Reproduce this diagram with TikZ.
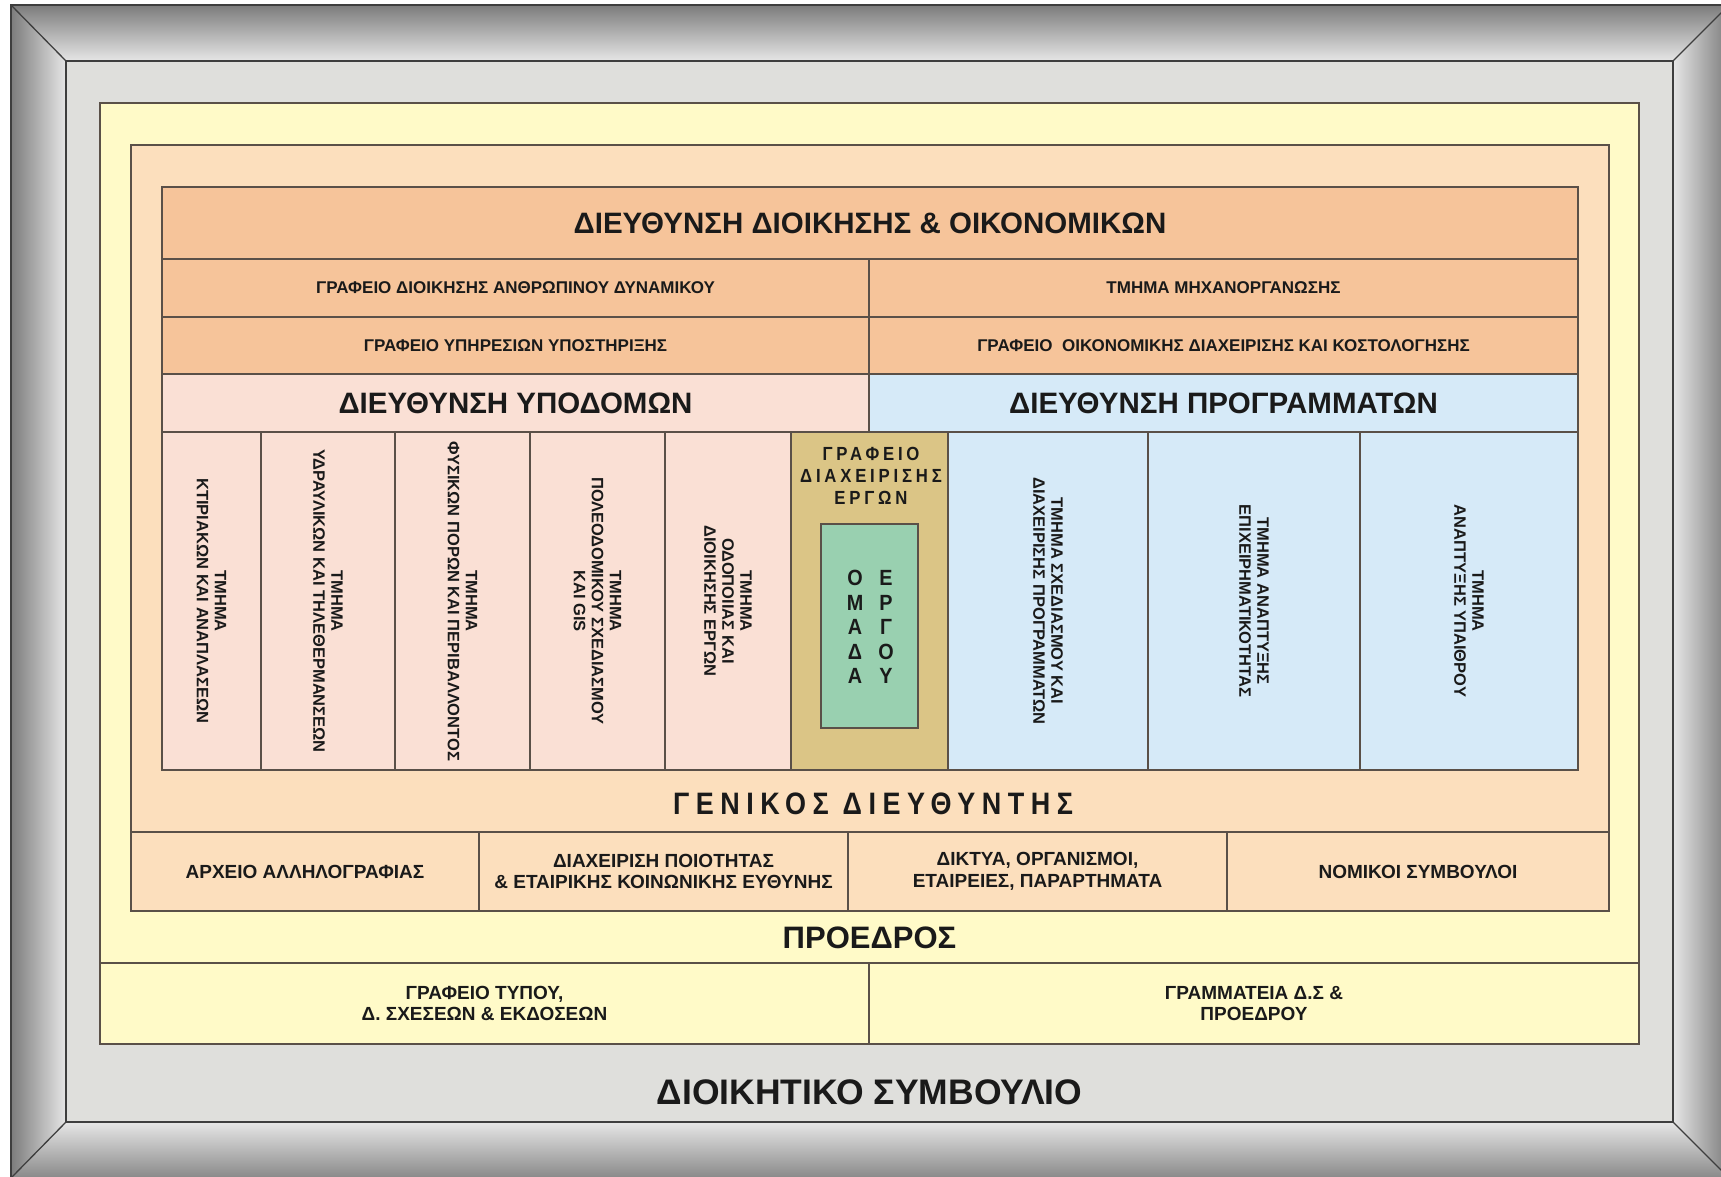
\documentclass[tikz,border=0pt]{standalone}
\usepackage{fontspec}
\setmainfont{Liberation Sans}
\newfontfamily\spacedfont[LetterSpace=21,FakeStretch=0.87]{Liberation Sans}
\newfontfamily\goldfont[LetterSpace=20,FakeStretch=0.88]{Liberation Sans}
\newfontfamily\teamfont[FakeStretch=0.9]{Liberation Sans}
\definecolor{framegrey}{HTML}{DFDFDC}
\definecolor{frdark}{HTML}{7C7C7C}
\definecolor{frlight}{HTML}{E6E6E6}
\definecolor{yel}{HTML}{FFFAC8}
\definecolor{peach}{HTML}{FCDFBD}
\definecolor{orng}{HTML}{F6C49A}
\definecolor{pinkc}{HTML}{FAE0D5}
\definecolor{bluec}{HTML}{D6EAF8}
\definecolor{goldc}{HTML}{DBC586}
\definecolor{greenc}{HTML}{99D0B0}
\definecolor{linec}{HTML}{5A5048}
\definecolor{frline}{HTML}{3E3E3E}
\definecolor{txt}{HTML}{1A1A1A}
\begin{document}
\begin{tikzpicture}[x=1pt,y=-1pt]
\tikzset{
  cell/.style={draw=linec, line width=1.4pt, inner sep=0pt, outer sep=0pt, align=center, text=txt},
  nw/.style={anchor=north west},
  smalltxt/.style={font=\bfseries\fontsize{17}{20}\selectfont},
  bigtxt/.style={font=\bfseries\fontsize{29.5}{34}\selectfont},
  lowtxt/.style={font=\bfseries\fontsize{19}{21.5}\selectfont},
  vert/.style={cell, rotate=-90, font=\bfseries\fontsize{16.5}{18}\selectfont, minimum width=338},
  headtxt/.style={inner sep=0pt, outer sep=0pt, text=txt, align=center},
  frameline/.style={draw=frline, line width=1.3pt}
}
\useasboundingbox (0,0) rectangle (1721,1176);
\fill[white] (0,0) rectangle (1721,1176);
% frame
\coordinate (o1) at (11,5);
\coordinate (o2) at (1729,5);
\coordinate (o3) at (1729,1178);
\coordinate (o4) at (11,1178);
\coordinate (i1) at (66,61);
\coordinate (i2) at (1673,61);
\coordinate (i3) at (1673,1122);
\coordinate (i4) at (66,1122);
\shade[top color=frdark, bottom color=frlight] (o1)--(o2)--(i2)--(i1)--cycle;
\shade[left color=frdark, right color=frlight] (o1)--(i1)--(i4)--(o4)--cycle;
\shade[left color=frlight, right color=frdark] (o2)--(o3)--(i3)--(i2)--cycle;
\shade[top color=frlight, bottom color=frdark!90!white] (i4)--(i3)--(o3)--(o4)--cycle;
\draw[frameline] (o1)--(i1) (o2)--(i2) (o3)--(i3) (o4)--(i4);
\draw[frameline] (o1) rectangle (o3);
\node[frameline, fill=framegrey, nw, inner sep=0pt, outer sep=0pt, minimum width=1607, minimum height=1061] (board) at (i1) {};
% yellow
\node[cell, nw, fill=yel, minimum width=1539, minimum height=941] (yelbox) at (100,103) {};
\node[cell, nw, lowtxt, fill=yel, minimum width=769, minimum height=81] (press) at (100,963) {ΓΡΑΦΕΙΟ ΤΥΠΟΥ,\\Δ. ΣΧΕΣΕΩΝ \& ΕΚΔΟΣΕΩΝ};
\node[cell, nw, lowtxt, fill=yel, minimum width=770, minimum height=81] (secr) at (869,963) {ΓΡΑΜΜΑΤΕΙΑ Δ.Σ \&\\ΠΡΟΕΔΡΟΥ};
% peach
\node[cell, nw, fill=peach, minimum width=1478, minimum height=766] (peachbox) at (131,145) {};
\node[cell, nw, lowtxt, fill=peach, minimum width=348, minimum height=79] (arch) at (131,832) {ΑΡΧΕΙΟ ΑΛΛΗΛΟΓΡΑΦΙΑΣ};
\node[cell, nw, lowtxt, fill=peach, minimum width=369, minimum height=79] (qual) at (479,832) {ΔΙΑΧΕΙΡΙΣΗ ΠΟΙΟΤΗΤΑΣ\\\& ΕΤΑΙΡΙΚΗΣ ΚΟΙΝΩΝΙΚΗΣ ΕΥΘΥΝΗΣ};
\node[cell, nw, lowtxt, fill=peach, minimum width=379, minimum height=79] (net) at (848,832) {ΔΙΚΤΥΑ, ΟΡΓΑΝΙΣΜΟΙ,\\ΕΤΑΙΡΕΙΕΣ, ΠΑΡΑΡΤΗΜΑΤΑ};
\node[cell, nw, lowtxt, fill=peach, minimum width=382, minimum height=79] (legal) at (1227,832) {ΝΟΜΙΚΟΙ ΣΥΜΒΟΥΛΟΙ};
% orange block
\node[cell, nw, bigtxt, fill=orng, minimum width=1416, minimum height=72] (ddo) at (162,187) {ΔΙΕΥΘΥΝΣΗ ΔΙΟΙΚΗΣΗΣ \& ΟΙΚΟΝΟΜΙΚΩΝ};
\node[cell, nw, smalltxt, fill=orng, minimum width=707, minimum height=58] (hr) at (162,259) {ΓΡΑΦΕΙΟ ΔΙΟΙΚΗΣΗΣ ΑΝΘΡΩΠΙΝΟΥ ΔΥΝΑΜΙΚΟΥ};
\node[cell, nw, smalltxt, fill=orng, minimum width=709, minimum height=58] (it) at (869,259) {ΤΜΗΜΑ ΜΗΧΑΝΟΡΓΑΝΩΣΗΣ};
\node[cell, nw, smalltxt, fill=orng, minimum width=707, minimum height=57] (sup) at (162,317) {ΓΡΑΦΕΙΟ ΥΠΗΡΕΣΙΩΝ ΥΠΟΣΤΗΡΙΞΗΣ};
\node[cell, nw, smalltxt, fill=orng, minimum width=709, minimum height=57] (fin) at (869,317) {ΓΡΑΦΕΙΟ~ ΟΙΚΟΝΟΜΙΚΗΣ ΔΙΑΧΕΙΡΙΣΗΣ ΚΑΙ ΚΟΣΤΟΛΟΓΗΣΗΣ};
\node[cell, nw, bigtxt, fill=pinkc, minimum width=707, minimum height=58] (infra) at (162,374) {ΔΙΕΥΘΥΝΣΗ ΥΠΟΔΟΜΩΝ};
\node[cell, nw, bigtxt, fill=bluec, minimum width=709, minimum height=58] (prog) at (869,374) {ΔΙΕΥΘΥΝΣΗ ΠΡΟΓΡΑΜΜΑΤΩΝ};
% columns
\node[vert, fill=pinkc, minimum height=99] (c1) at (211.5,601) {ΤΜΗΜΑ\\ΚΤΙΡΙΑΚΩΝ ΚΑΙ ΑΝΑΠΛΑΣΕΩΝ};
\node[vert, fill=pinkc, minimum height=134] (c2) at (328,601) {ΤΜΗΜΑ\\ΥΔΡΑΥΛΙΚΩΝ ΚΑΙ ΤΗΛΕΘΕΡΜΑΝΣΕΩΝ};
\node[vert, fill=pinkc, minimum height=135] (c3) at (462.5,601) {ΤΜΗΜΑ\\ΦΥΣΙΚΩΝ ΠΟΡΩΝ ΚΑΙ ΠΕΡΙΒΑΛΛΟΝΤΟΣ};
\node[vert, fill=pinkc, minimum height=135] (c4) at (597.5,601) {ΤΜΗΜΑ\\ΠΟΛΕΟΔΟΜΙΚΟΥ ΣΧΕΔΙΑΣΜΟΥ\\ΚΑΙ GIS};
\node[vert, fill=pinkc, minimum height=126] (c5) at (728,601) {ΤΜΗΜΑ\\ΟΔΟΠΟΙΙΑΣ ΚΑΙ\\ΔΙΟΙΚΗΣΗΣ ΕΡΓΩΝ};
\node[cell, nw, fill=goldc, minimum width=157, minimum height=338] (gold) at (791,432) {};
\node[headtxt, font=\goldfont\bfseries\fontsize{19}{22}\selectfont] (goldtxt) at (871,476) {ΓΡΑΦΕΙΟ\\ΔΙΑΧΕΙΡΙΣΗΣ\\ΕΡΓΩΝ};
\node[cell, nw, fill=greenc, minimum width=97, minimum height=204] (team) at (821,524) {};
\node[headtxt, font=\teamfont\bfseries\fontsize{22}{24.5}\selectfont] (omada) at (855,627) {Ο\\Μ\\Α\\Δ\\Α};
\node[headtxt, font=\teamfont\bfseries\fontsize{22}{24.5}\selectfont] (ergou) at (886,627) {Ε\\Ρ\\Γ\\Ο\\Υ};
\node[vert, fill=bluec, minimum height=200] (c7) at (1048,601) {ΤΜΗΜΑ ΣΧΕΔΙΑΣΜΟΥ ΚΑΙ\\ΔΙΑΧΕΙΡΙΣΗΣ ΠΡΟΓΡΑΜΜΑΤΩΝ};
\node[vert, fill=bluec, minimum height=212] (c8) at (1254,601) {ΤΜΗΜΑ ΑΝΑΠΤΥΞΗΣ\\ΕΠΙΧΕΙΡΗΜΑΤΙΚΟΤΗΤΑΣ};
\node[vert, fill=bluec, minimum height=218] (c9) at (1469,601) {ΤΜΗΜΑ\\ΑΝΑΠΤΥΞΗΣ ΥΠΑΙΘΡΟΥ};
% headings
\node[headtxt, font=\spacedfont\bfseries\fontsize{31}{34}\selectfont] (gd) at (873,804) {ΓΕΝΙΚΟΣ ΔΙΕΥΘΥΝΤΗΣ};
\node[headtxt, font=\bfseries\fontsize{31}{34}\selectfont] (pres) at (869.5,938) {ΠΡΟΕΔΡΟΣ};
\node[headtxt, font=\bfseries\fontsize{35.5}{40}\selectfont] (ds) at (869.5,1092) {ΔΙΟΙΚΗΤΙΚΟ ΣΥΜΒΟΥΛΙΟ};
\end{tikzpicture}
\end{document}
